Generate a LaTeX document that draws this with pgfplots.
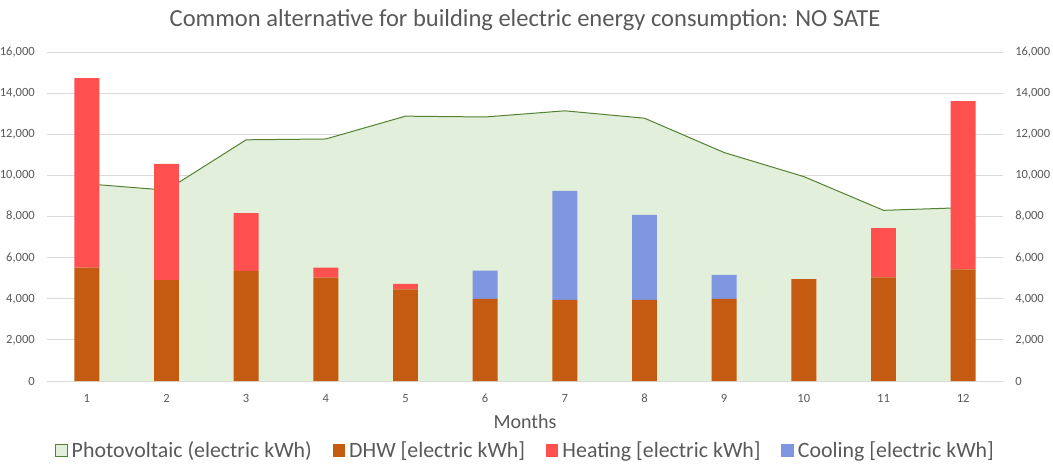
\documentclass[border=0pt]{standalone}
\usepackage{pgfplots}
\pgfplotsset{compat=1.18}
\usepackage{pgfplotstable}
\usepackage{fontspec}
\setmainfont{Carlito}
\definecolor{pvfill}{HTML}{E2EFDA}
\definecolor{pvline}{HTML}{548235}
\definecolor{dhw}{HTML}{C55A11}
\definecolor{heat}{HTML}{FF5050}
\definecolor{cool}{HTML}{7F96E1}
\definecolor{gridc}{HTML}{D9D9D9}
\definecolor{txt}{HTML}{595959}

\pgfplotstableread{
month pv dhw heat cool
1 9590 5510 9220 0
2 9280 4910 5650 0
3 11730 5340 2830 0
4 11770 5030 480 0
5 12880 4460 260 0
6 12840 3990 0 1380
7 13140 3940 0 5310
8 12780 3940 0 4140
9 11110 3990 0 1170
10 9940 4960 0 0
11 8300 5040 2400 0
12 8430 5430 8180 0
}\data

\pgfplotsset{
  base/.style={
    scale only axis, width=717pt, height=246.75pt,
    at={(35.25pt,66pt)}, anchor=south west,
    xmin=0.5, xmax=12.5, ymin=0, ymax=16000,
    axis line style={draw=none}, major tick length=0pt,
    ytick={0,2000,...,16000}, scaled y ticks=false,
    /pgf/number format/.cd, 1000 sep={,}, assume math mode=true, /pgfplots/.cd,
    tick label style={font=\fontsize{9.4}{11}\selectfont, text=txt},
  },
  sqlegend/.style={legend image code/.code={\draw[##1,draw=none] (0pt,-4.75pt) rectangle (9.5pt,4.75pt);}},
}

\begin{document}
\begin{tikzpicture}
\path[use as bounding box] (0,0) rectangle (789.75pt,351.75pt);
\begin{axis}[base,
  ymajorgrids, grid style={gridc, line width=0.75pt},
  xtick={1,...,12},
  xticklabel style={anchor=base, yshift=-15.75pt},
  yticklabel style={anchor=east, inner sep=0pt, xshift=-9pt},
  title={Common alternative for building electric energy consumption: NO SATE},
  title style={at={(0.5,1)}, anchor=base, yshift=13.5pt, font=\fontsize{18.4}{22}\selectfont, text=txt},
  xlabel={Months},
  xlabel style={at={(0.5,0)}, anchor=base, yshift=-35.75pt, font=\fontsize{15}{18}\selectfont, text=txt},
]
\addplot[fill=pvfill, draw=none] table[x=month, y=pv]{\data} \closedcycle;
\addplot[draw=pvline, line width=0.75pt, mark=none] table[x=month, y=pv]{\data};
\end{axis}
\begin{axis}[base,
  ybar stacked, bar width=0.313,
  xtick=\empty,
  yticklabel pos=right,
  yticklabel style={anchor=west, inner sep=0pt, xshift=9pt},
  sqlegend,
  legend columns=4,
  legend style={draw=none, fill=none, at={(0.5016,-0.212)}, anchor=center,
    font=\fontsize{16.4}{19}\selectfont, text=txt,
    nodes={inner xsep=3pt},
    /tikz/every odd column/.append style={column sep=0pt},
    /tikz/every even column/.append style={column sep=12.5pt}},
]
\addlegendimage{legend image code/.code={\draw[fill=pvfill, draw=pvline, line width=0.75pt] (0.4pt,-4.35pt) rectangle (9.1pt,4.35pt);}}
\addlegendentry{Photovoltaic (electric kWh)}
\addplot[fill=dhw, draw=none] table[x=month, y=dhw]{\data};
\addlegendentry{DHW [electric kWh]}
\addplot[fill=heat, draw=none] table[x=month, y=heat]{\data};
\addlegendentry{Heating [electric kWh]}
\addplot[fill=cool, draw=none] table[x=month, y=cool]{\data};
\addlegendentry{Cooling [electric kWh]}
\end{axis}
\end{tikzpicture}
\end{document}
